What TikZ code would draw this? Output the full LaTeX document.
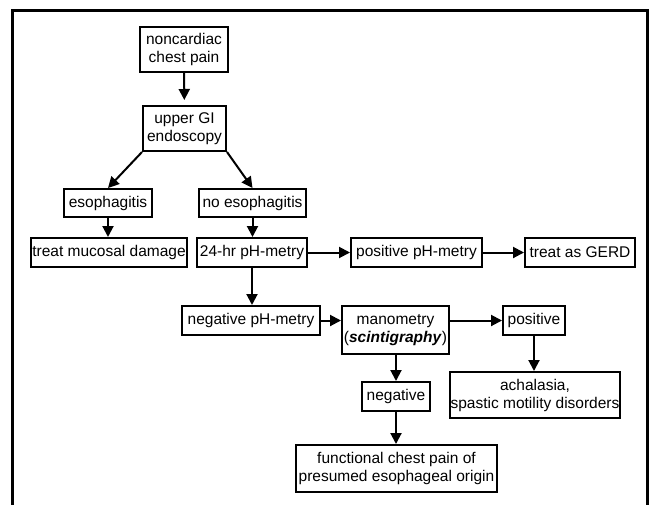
\documentclass[tikz,border=0pt]{standalone}
\usepackage{fontspec}
\setmainfont{Liberation Sans}
\usetikzlibrary{arrows.meta}
\begin{document}
\begin{tikzpicture}[x=1pt,y=-1pt,
  box/.style={draw,line width=2pt,inner sep=0pt,align=center,
    font=\fontsize{15.5}{18}\selectfont},
  link/.style={line width=2pt,-{Triangle[length=11pt,width=11pt]}}]
\useasboundingbox (0,0) rectangle (653,504);
% outer frame, open at the bottom
\draw[line width=3pt] (12,520) -- (12,10) -- (647,10) -- (647,520);

% nodes (box size given explicitly)
\node[box,minimum width=88pt,minimum height=45pt] (ncp) at (184,49.5) {noncardiac\\chest pain};
\node[box,minimum width=83pt,minimum height=45pt] (gi) at (184.5,128.5) {upper GI\\endoscopy};
\node[box,minimum width=88pt,minimum height=28pt] (eso) at (108,203) {esophagitis};
\node[box,minimum width=107pt,minimum height=28pt] (noeso) at (252.5,203) {no esophagitis};
\node[box,minimum width=156pt,minimum height=29pt] (treat) at (109,252.5) {treat mucosal damage};
\node[box,minimum width=110pt,minimum height=29pt] (ph) at (252,252.5) {24-hr pH-metry};
\node[box,minimum width=131pt,minimum height=29pt] (posph) at (416.5,252.5) {positive pH-metry};
\node[box,minimum width=110pt,minimum height=29pt] (gerd) at (580,252.5) {treat as GERD};
\node[box,minimum width=138pt,minimum height=29pt] (negph) at (251,320.5) {negative pH-metry};
\node[box,minimum width=107pt,minimum height=48pt] (mano) at (395.5,330) {manometry\\(\textbf{\textit{scintigraphy}})};
\node[box,minimum width=62pt,minimum height=29pt] (pos) at (534,320.5) {positive};
\node[box,minimum width=170pt,minimum height=46pt] (acha) at (535,395) {achalasia,\\spastic motility disorders};
\node[box,minimum width=68pt,minimum height=29pt] (neg) at (396,396.5) {negative};
\node[box,minimum width=201pt,minimum height=47pt] (func) at (396.5,468.5) {functional chest pain of\\presumed esophageal origin};

% connectors
\draw[link,shorten >=5pt] (ncp) -- (gi);
\draw[link] (gi.south west) -- (eso.north);
\draw[link] (gi.south east) -- (noeso.north);
\draw[link] (eso.south) -- (eso.south |- treat.north);
\draw[link] (noeso.south) -- (noeso.south |- ph.north);
\draw[link] (ph) -- (posph);
\draw[link] (posph) -- (gerd);
\draw[link] (ph.south) -- (ph.south |- negph.north);
\draw[link] (negph) -- (mano.west |- negph.east);
\draw[link] (mano.east |- pos.west) -- (pos.west);
\draw[link] (pos) -- (pos |- acha.north);
\draw[link] (neg.north |- mano.south) -- (neg.north);
\draw[link] (neg.south) -- (neg.south |- func.north);
\end{tikzpicture}
\end{document}
